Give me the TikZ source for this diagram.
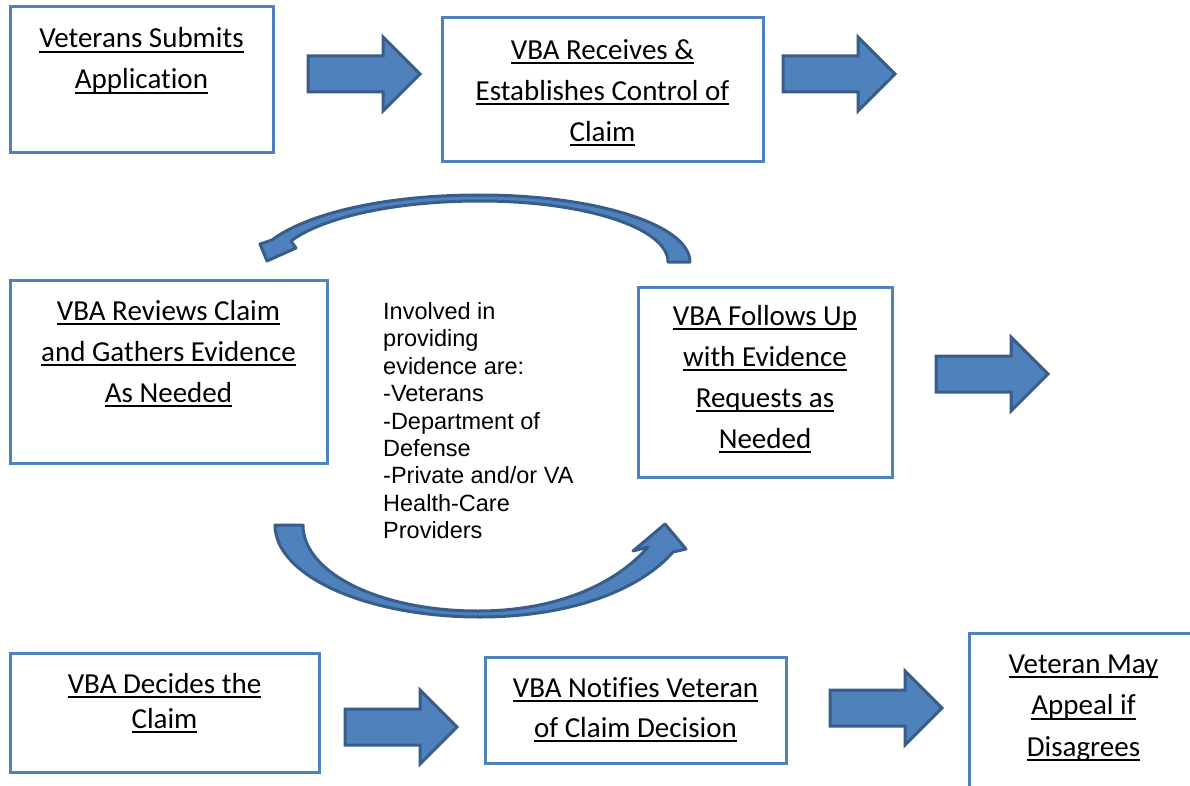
\documentclass[tikz,border=0pt]{standalone}
\usepackage{fontspec}
\setmainfont{Carlito}[Ligatures=NoCommon]
\newfontfamily\arialf{Liberation Sans}
\definecolor{boxblue}{HTML}{4F81BD}
\definecolor{arrfill}{HTML}{4F81BD}
\definecolor{arrline}{HTML}{385D8A}
\newcommand\ulx[1]{\setbox0=\hbox{#1}\rlap{\rule[-5.2pt]{\wd0}{2.2pt}}\box0}
\newcommand\blockarr[3]{%
  \coordinate (#1) at (#2,#3);
  \draw[blockarrow, shift={(#1)}] (0,-18) -- (75,-18) -- (75,-37) -- (112,0) -- (75,37) -- (75,18) -- (0,18) -- cycle;}
\begin{document}
\begin{tikzpicture}[x=1pt,y=-1pt,
  flowbox/.style={draw=boxblue, line width=3pt, rectangle, inner sep=0pt},
  flowtext/.style={anchor=north, inner sep=0pt, align=center, font=\fontsize{29}{41}\selectfont},
  midtext/.style={anchor=north west, inner sep=0pt, align=left, font=\arialf\fontsize{23.5}{27.4}\selectfont},
  blockarrow/.style={fill=arrfill, draw=arrline, line width=3pt, line join=miter},
  curvarrow/.style={fill=arrfill, draw=arrline, line width=3pt, line join=round}]
\useasboundingbox (0,0) rectangle (1190,786);
\clip (0,0) rectangle (1190,786);

% boxes
\node[flowbox, minimum width=263pt, minimum height=146pt] (b1) at (141.5,80) {};
\node[flowbox, minimum width=321pt, minimum height=144pt] (b2) at (602.5,90) {};
\node[flowbox, minimum width=317pt, minimum height=183pt] (b3) at (168.5,371.5) {};
\node[flowbox, minimum width=254pt, minimum height=190pt] (b4) at (765,382) {};
\node[flowbox, minimum width=309pt, minimum height=119pt] (b5) at (164.5,712.5) {};
\node[flowbox, minimum width=301pt, minimum height=106pt] (b6) at (635.5,710) {};
\node[flowbox, minimum width=229pt, minimum height=159pt] (b7) at (1083.5,712.5) {};

% box texts
\node[flowtext] (t1) at (141.5,25.7) {\rule{0pt}{22pt}\ulx{Veterans Submits}\\\ulx{Application}};
\node[flowtext] (t2) at (602.5,37) {\rule{0pt}{22pt}\ulx{VBA Receives \&}\\\ulx{Establishes Control of}\\\ulx{Claim}};
\node[flowtext] (t3) at (168.5,298) {\rule{0pt}{22pt}\ulx{VBA Reviews Claim}\\\ulx{and Gathers Evidence}\\\ulx{As Needed}};
\node[flowtext] (t4) at (765,303) {\rule{0pt}{22pt}\ulx{VBA Follows Up}\\\ulx{with Evidence}\\\ulx{Requests as}\\\ulx{Needed}};
\node[flowtext, font=\fontsize{29}{35}\selectfont] (t5) at (164.5,671) {\rule{0pt}{22pt}\ulx{VBA Decides the}\\\ulx{Claim}};
\node[flowtext, font=\fontsize{29}{40}\selectfont] (t6) at (635.5,675) {\rule{0pt}{22pt}\ulx{VBA Notifies Veteran}\\\ulx{of Claim Decision}};
\node[flowtext, font=\fontsize{29}{41.5}\selectfont] (t7) at (1083.5,651) {\rule{0pt}{22pt}\ulx{Veteran May}\\\ulx{Appeal if}\\\ulx{Disagrees}};

% middle text
\node[midtext] (mid) at (383,300.3) {\rule{0pt}{19pt}Involved in\\providing\\evidence are:\\-Veterans\\-Department of\\Defense\\-Private and/or VA\\Health-Care\\Providers};

% block arrows
\blockarr{a1}{308}{74}
\blockarr{a2}{783}{74}
\blockarr{a3}{936}{374}
\blockarr{a4}{345}{727}
\blockarr{a5}{830}{708}

% curved arrows
\draw[curvarrow] (690,262) .. controls (690,225) and (596,195) .. (480,195)
  .. controls (380,195) and (305,215) .. (272,240)
  -- (260,244) -- (267,261) -- (296,248) -- (291,241)
  .. controls (320,219) and (390,201) .. (480,201)
  .. controls (585,201) and (668,228) .. (668,262) -- cycle;
\draw[curvarrow] (275,525) .. controls (275,576) and (367,617) .. (480,617)
  .. controls (570,617) and (640,590) .. (673,552)
  -- (686,549) -- (665,524) -- (633,551) -- (648,547)
  .. controls (615,585) and (555,611) .. (478,611)
  .. controls (380,611) and (303,573) .. (303,525) -- cycle;
\end{tikzpicture}
\end{document}
